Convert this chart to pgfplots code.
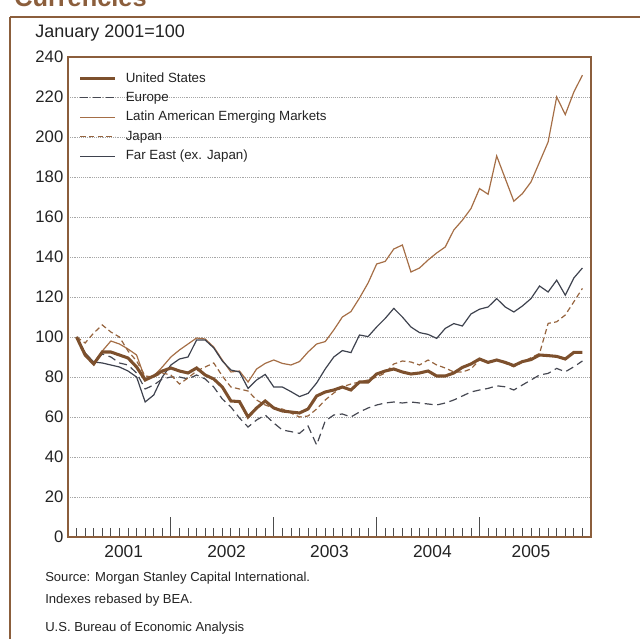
\documentclass[border=0pt]{standalone}
\usepackage{fontspec}
\setmainfont{Liberation Sans}
\usepackage{pgfplots}
\usepackage{pgfplotstable}
\pgfplotsset{compat=1.18}
\definecolor{framec}{RGB}{139,94,60}
\definecolor{usc}{RGB}{125,80,45}
\definecolor{lac}{RGB}{165,110,70}
\definecolor{jpc}{RGB}{150,100,62}
\definecolor{euc}{RGB}{70,72,82}
\definecolor{fec}{RGB}{62,66,78}
\definecolor{txt}{RGB}{35,35,35}
\pgfplotstableread{
m us eu la jp fe
0 100 100 100 100 100
1 91 91 92 97 92
2 86.5 87 87 102 87.5
3 92.5 91.5 93 106 87
4 92.5 90 98 102.5 86
5 91 87 96.5 100 85
6 89.5 86 94 93 83
7 85 82 91 88 80
8 78.5 74 79 80.5 67.5
9 80.5 76 80.5 80 71
10 83 79 85 82 80
11 84.5 80 90 81 86
12 83 80 93.5 76.5 89
13 82 79 96.5 79.5 90
14 84.5 81 99.5 83 98.5
15 81 79 99 85 98.5
16 79 75 95 87 94.5
17 75 69 88.5 80.5 88
18 68 65 82.5 75 83.5
19 67.7 59.5 83 74 82.5
20 60 55 77.5 73 74.3
21 64.5 58.5 84 68.5 78.5
22 68 61 86.8 66 81.3
23 64.5 57 88.5 64.5 75
24 63 53.5 86.8 64 75
25 62.5 52.7 86 62 72.7
26 62 51.8 87.7 60 70.2
27 64 55.5 92.5 60.5 71.8
28 70.5 46 96.5 64 77
29 72.5 58 97.7 68.5 84
30 73.5 61 103.5 72 90
31 75 61.5 110 75 93.2
32 73.5 60 112.7 76.5 92.2
33 77.5 62.5 119.5 77.5 101
34 77.5 64.5 127 78.5 100.2
35 81.5 66 136.5 80 105
36 83 67 137.8 82 109.3
37 84 67.5 144 86.5 114.3
38 82.5 67 146 88 110
39 81.5 67.5 132.5 87.5 105
40 82 67 134.5 86 102.2
41 83 66.5 138.5 88.5 101.3
42 80.5 66 142 86 99.3
43 80.5 67 145 84.5 104.3
44 82 68.5 153.5 82.5 106.7
45 84.8 70.5 158.4 82.5 105.5
46 86.5 72.5 164.2 84 111.5
47 89 73.5 174.2 88.5 113.9
48 87.3 74.3 171.4 87.6 115
49 88.5 75.6 190.5 88.5 119.2
50 87.3 75.1 179.2 86.8 115
51 85.7 73.5 167.9 85.1 112.5
52 87.7 76 171.7 87.6 115.5
53 88.7 78.5 177.5 89.6 119.2
54 91 81 187.5 91.8 125.5
55 90.7 81.8 197.5 106.8 122.5
56 90.3 84.3 220 107.6 128.4
57 89 82.6 211.2 111 120.9
58 92.3 85.1 222.5 117.6 129.5
59 92.3 88 230.9 124.3 134.5
}\datatable
\begin{document}
\begin{tikzpicture}
\useasboundingbox (0pt,0pt) rectangle (480pt,479.25pt);
\draw[framec, line width=1.8pt] (7.5pt,466.5pt) -- (525pt,466.5pt);
\draw[framec, line width=1.8pt] (7.5pt,466.5pt) -- (7.5pt,-15pt);
\node[anchor=base west, inner sep=0, text=framec, font=\bfseries\fontsize{19}{19}\selectfont] at (10.5pt,474pt) {Currencies};
\node[anchor=west, inner sep=0, text=txt, font=\fontsize{13.5}{14}\selectfont] at (26.25pt,454.5pt) {January 2001=100};
\begin{axis}[
  at={(51pt,76.5pt)}, anchor=south west, scale only axis,
  width=392.25pt, height=360pt,
  xmin=-1, xmax=60, ymin=0, ymax=240,
  axis line style={framec, line width=1.5pt},
  /pgf/number format/assume math mode=true,
  ytick={0,20,...,240},
  ymajorgrids, grid style={densely dotted, black!35, line width=0.6pt},
  ytick style={draw=none},
  yticklabel style={text=txt, font=\fontsize{12.5}{13}\selectfont},
  xtick={11,23,35,47}, xticklabels={},
  minor xtick={0,...,59},
  tick align=inside,
  xtick pos=bottom,
  major tick length=15pt, minor tick length=6.5pt,
  xtick style={black!70, line width=0.6pt},
  minor tick style={black!70, line width=0.6pt},
  extra x ticks={5.5,17.5,29.5,41.5,53},
  extra x tick labels={2001,2002,2003,2004,2005},
  extra x tick style={major tick length=0pt, xticklabel style={text=txt, font=\fontsize{13}{14}\selectfont, yshift=-3pt}},
  legend style={at={(0.02,0.972)}, anchor=north west, draw=none, fill=none, inner sep=0pt,
    font=\fontsize{10}{11}\selectfont, text=txt, row sep=3.1pt,
    nodes={inner sep=1pt, text height=7.5pt, text depth=2pt}},
  legend cell align=left,
  legend image code/.code={\draw[#1] (0pt,0pt) -- (26pt,0pt); \path (32pt,0pt);},
]
\addlegendimage{usc, line width=2.3pt}
\addlegendentry{United States}
\addlegendimage{euc, line width=0.9pt, dash pattern=on 6pt off 3.5pt}
\addlegendentry{Europe}
\addlegendimage{lac, line width=0.9pt}
\addlegendentry{Latin American Emerging Markets}
\addlegendimage{jpc, line width=0.9pt, dash pattern=on 4pt off 2.5pt}
\addlegendentry{Japan}
\addlegendimage{fec, line width=0.9pt}
\addlegendentry{Far East (ex. Japan)}
\addplot[forget plot, lac, line width=0.9pt] table[x=m, y=la] {\datatable};
\addplot[forget plot, fec, line width=0.9pt] table[x=m, y=fe] {\datatable};
\addplot[forget plot, euc, line width=0.9pt, dash pattern=on 6pt off 3.5pt] table[x=m, y=eu] {\datatable};
\addplot[forget plot, jpc, line width=0.9pt, dash pattern=on 4pt off 2.5pt] table[x=m, y=jp] {\datatable};
\addplot[forget plot, usc, line width=2.3pt] table[x=m, y=us] {\datatable};
\end{axis}
\node[anchor=west, inner sep=0, text=txt, font=\fontsize{9.8}{11}\selectfont] at (33.75pt,45.75pt) {Source: Morgan Stanley Capital International.};
\node[anchor=west, inner sep=0, text=txt, font=\fontsize{9.8}{11}\selectfont] at (33.75pt,29.25pt) {Indexes rebased by BEA.};
\node[anchor=west, inner sep=0, text=txt, font=\fontsize{9.8}{11}\selectfont] at (33.75pt,8.25pt) {U.S. Bureau of Economic Analysis};
\end{tikzpicture}
\end{document}
